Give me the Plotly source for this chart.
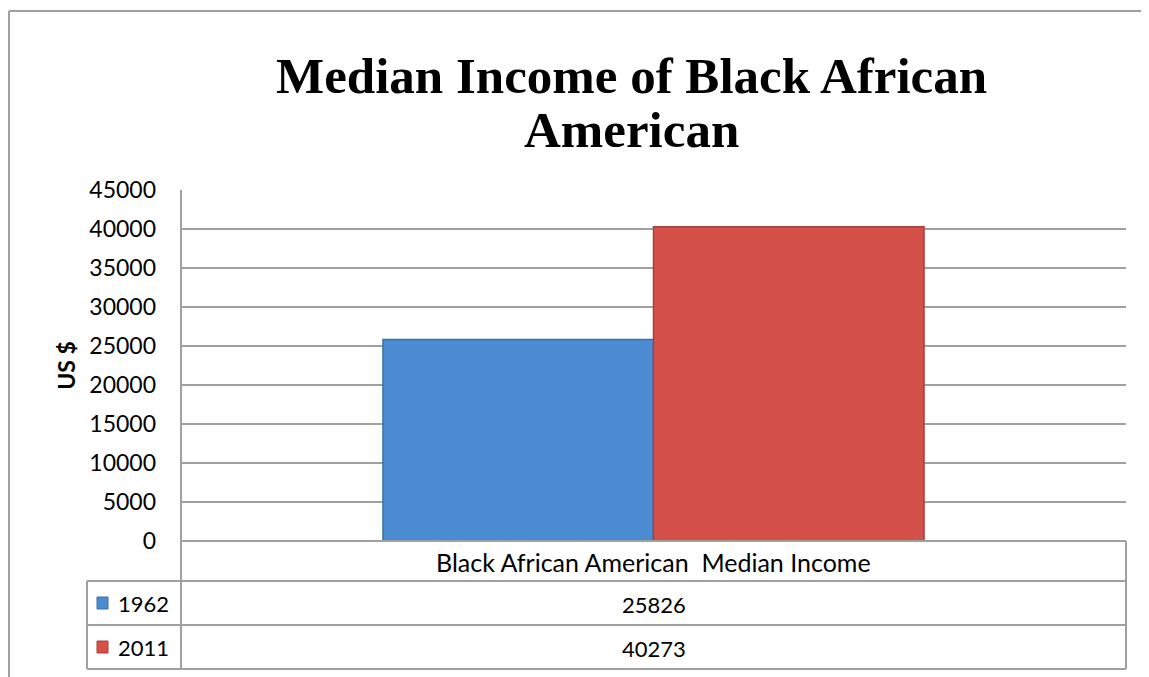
import plotly.graph_objects as go

# ---- data ----
categories = ["Black African American  Median Income"]
series_names = ["1962", "2011"]
values_1962 = [25826]
values_2011 = [40273]
series_values = [values_1962, values_2011]
series_colors = ["#4A8BD2", "#D4514A"]
series_edges = ["#3A6FA8", "#A93E38"]
y_ticks = [0, 5000, 10000, 15000, 20000, 25000, 30000, 35000, 40000, 45000]
title_lines = ["Median Income of Black African", "American"]
y_title = "US $"

OFF = 8  # browser body margin
W, H = 1149 - OFF, 677 - OFF
L, R, T, B = 181, 1126, 190, 541  # plot area in screen pixels


def px_x(px):
    return (px - L) / (R - L)


def px_y(py):
    return (B - py) / (B - T)


fig = go.Figure()
for name, vals, col, edge in zip(series_names, series_values, series_colors, series_edges):
    fig.add_trace(go.Bar(
        x=categories, y=vals, name=name,
        marker=dict(color=col, line=dict(color=edge, width=1.5)),
        showlegend=False,
    ))

grey = "#A0A0A0"
shapes = []


def line(x0, y0, x1, y1, w=2, c=grey):
    shapes.append(dict(type="line", xref="paper", yref="paper",
                       x0=px_x(x0), y0=px_y(y0), x1=px_x(x1), y1=px_y(y1),
                       line=dict(color=c, width=w)))


# outer chart border (left + top)
line(9, 690, 9, 11)
line(9, 11, 1160, 11)
# data table
row_tops = [541, 581, 625, 669]
line(181, 541, 1126, 541)
line(87, 581, 1126, 581)
line(87, 625, 1126, 625)
line(87, 669, 1126, 669)
line(181, 190, 181, 669)
line(87, 581, 87, 669)
line(1126, 541, 1126, 669)

annotations = []
font_main = "Lato, 'Open Sans', sans-serif"
# category label row
annotations.append(dict(xref="paper", yref="paper", x=0.5, y=px_y(562),
                        text=categories[0], showarrow=False,
                        font=dict(family=font_main, size=25, color="#000"),
                        xanchor="center", yanchor="middle"))
# series rows
for i, (name, vals, col, edge) in enumerate(zip(series_names, series_values, series_colors, series_edges)):
    yc = (row_tops[i + 1] + row_tops[i + 2]) / 2
    annotations.append(dict(xref="paper", yref="paper", x=0.5, y=px_y(yc + 1),
                            text=str(vals[0]), showarrow=False,
                            font=dict(family=font_main, size=22, color="#000"),
                            xanchor="center", yanchor="middle"))
    annotations.append(dict(xref="paper", yref="paper", x=px_x(116), y=px_y(yc),
                            text=name, showarrow=False,
                            font=dict(family=font_main, size=22, color="#000"),
                            xanchor="left", yanchor="middle"))
    shapes.append(dict(type="rect", xref="paper", yref="paper",
                       x0=px_x(97), x1=px_x(108), y0=px_y(yc - 6), y1=px_y(yc + 6),
                       fillcolor=col, line=dict(color=edge, width=1)))

# title (two lines, placed separately for tighter line spacing)
for txt, yc in zip(title_lines, [76, 130]):
    annotations.append(dict(xref="paper", yref="paper", x=px_x(631), y=px_y(yc),
                            text="<b>" + txt + "</b>", showarrow=False,
                            font=dict(family="'Liberation Serif', serif", size=51, color="#000"),
                            xanchor="center", yanchor="middle"))

fig.update_layout(
    width=W, height=H,
    margin=dict(l=L - OFF, r=W - (R - OFF), t=T - OFF, b=H - (B - OFF), pad=0),
    paper_bgcolor="white", plot_bgcolor="white",
    barmode="group", bargap=0.4275, bargroupgap=0,
    shapes=shapes, annotations=annotations,
    xaxis=dict(showticklabels=False, showgrid=False, zeroline=False, showline=False, fixedrange=True),
    yaxis=dict(range=[0, 45000], tickvals=y_ticks, ticktext=[str(v) for v in y_ticks],
               showgrid=True, gridcolor=grey, gridwidth=2, zeroline=False,
               showline=False, ticks="", ticklabelstandoff=24,
               tickfont=dict(family=font_main, size=23, color="#000"),
               title=dict(text="<b>" + y_title + "</b>", standoff=7,
                          font=dict(family=font_main, size=23, color="#000"))),
)

fig.write_html("out.html")
